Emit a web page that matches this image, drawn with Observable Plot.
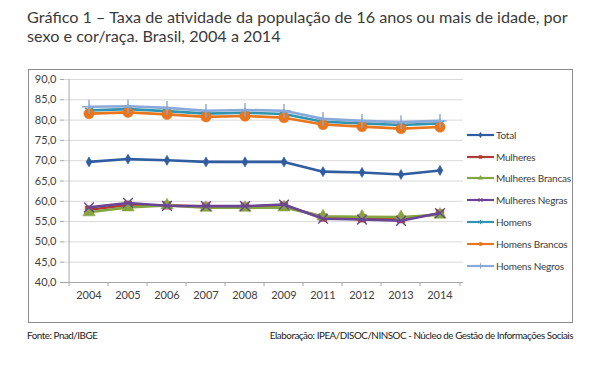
<!DOCTYPE html>
<html>
<head>
<meta charset="utf-8">
<script src="https://cdn.jsdelivr.net/npm/d3@7"></script>
<script src="https://cdn.jsdelivr.net/npm/@observablehq/plot@0.6"></script>
<style>
  body { margin: 0; background: #fff; }
  #root { position: relative; width: 600px; height: 371px; background: #fff; overflow: hidden; font-family: Lato, "Open Sans", sans-serif; }
  #title { position: absolute; left: 27px; top: 7px; font-size: 16.2px; line-height: 19px; color: #3a3a3a; }
  #box { position: absolute; left: 28px; top: 69px; width: 545px; height: 254px; box-sizing: border-box; border: 1.5px solid #8c8c8c; }
  #chart { position: absolute; left: 0; top: 62px; }
  #legend { position: absolute; left: 467px; top: 124px; font-size: 10px; letter-spacing: -0.2px; color: #404040; }
  #legend .item { height: 21.8px; display: flex; align-items: center; }
  #legend svg { margin-right: 2px; }
  .foot { position: absolute; top: 329px; font-size: 9.8px; color: #222; letter-spacing: -0.45px; font-family: "Liberation Sans Narrow", Lato, sans-serif; }
</style>
</head>
<body>
<div id="root">
  <div id="title">Gráfico 1 – Taxa de atividade da população de 16 anos ou mais de idade, por<br>sexo e cor/raça. Brasil, 2004 a 2014</div>
  <div id="box"></div>
  <div id="chart"></div>
  <div id="legend"></div>
  <div class="foot" style="left:27px">Fonte: Pnad/IBGE</div>
  <div class="foot" style="right:27px">Elaboração: IPEA/DISOC/NINSOC - Núcleo de Gestão de Informações Sociais</div>
</div>
<script>
const years = ["2004","2005","2006","2007","2008","2009","2011","2012","2013","2014"];
const yTicks = [40,45,50,55,60,65,70,75,80,85,90];

const total           = [69.7, 70.4, 70.1, 69.7, 69.7, 69.7, 67.3, 67.1, 66.6, 67.6];
const mulheres        = [57.9, 59.1, 59.0, 58.7, 58.7, 58.9, 56.0, 55.8, 55.6, 57.0];
const mulheresBrancas = [57.3, 58.5, 59.0, 58.4, 58.4, 58.5, 56.3, 56.2, 56.1, 56.7];
const mulheresNegras  = [58.5, 59.6, 58.9, 58.8, 58.8, 59.2, 55.7, 55.5, 55.2, 57.1];
const homens          = [82.4, 82.7, 82.2, 81.6, 81.8, 81.5, 79.6, 79.2, 78.8, 79.2];
const homensBrancos   = [81.6, 81.9, 81.4, 80.8, 81.0, 80.6, 78.9, 78.4, 77.9, 78.3];
const homensNegros    = [83.3, 83.4, 83.0, 82.3, 82.5, 82.3, 80.3, 79.8, 79.5, 79.8];

const seriesNames = ["Total","Mulheres","Mulheres Brancas","Mulheres Negras","Homens","Homens Brancos","Homens Negros"];
const seriesValues = [total, mulheres, mulheresBrancas, mulheresNegras, homens, homensBrancos, homensNegros];
const seriesColors = ["#2f5d9f","#b03a36","#85a53f","#6a4596","#2f95b0","#e8761e","#8aa8d8"];
const seriesSymbols = ["diamond","square","triangle","times","asterisk","circle","plus"];
const seriesR = [3.1, 4.3, 4.6, 4.5, 4.5, 5.2, 4.5];
const strokeSymbols = new Set(["times","asterisk","plus"]);

const W = 600, H = 266;
const mL = 64, mR = 137, mT = 17, mB = 46;
const bw = (W - mL - mR) / years.length;

const marks = [
  Plot.gridY(yTicks.filter(t => t > 40), {stroke: "#d9d9d9", strokeOpacity: 1, strokeWidth: 1}),
  Plot.axisY({ticks: yTicks, tickSize: 4, tickPadding: 4, tickFormat: d => d.toFixed(1).replace(".", ","), stroke: "#a6a6a6", fill: "#404040", fontSize: 11, label: null}),
  Plot.axisX({tickSize: 0, tickPadding: 9, fill: "#404040", fontSize: 11, label: null}),
  Plot.ruleY([40], {stroke: "#a6a6a6"}),
  Plot.ruleX([years[0]], {dx: -bw/2, y1: 40, y2: 90, stroke: "#a6a6a6"}),
  Plot.ruleX(years, {dx: -bw/2, y1: 40, y2: 39, stroke: "#a6a6a6"}),
  Plot.ruleX([years[years.length-1]], {dx: bw/2, y1: 40, y2: 39, stroke: "#a6a6a6"})
];

seriesNames.forEach((name, i) => {
  const data = years.map((y, j) => ({year: y, value: seriesValues[i][j]}));
  const c = seriesColors[i];
  marks.push(Plot.line(data, {x: "year", y: "value", stroke: c, strokeWidth: 2.6}));
  const isStroke = strokeSymbols.has(seriesSymbols[i]);
  marks.push(Plot.dot(data, {x: "year", y: "value", symbol: seriesSymbols[i], r: seriesR[i],
    fill: isStroke ? "none" : c, stroke: c, strokeWidth: isStroke ? 1.4 : 0.5}));
});

const chart = Plot.plot({
  width: W, height: H,
  marginLeft: mL, marginRight: mR, marginTop: mT, marginBottom: mB,
  style: {background: "transparent", fontFamily: "Lato, 'Open Sans', sans-serif"},
  x: {type: "band", domain: years, padding: 0, axis: null},
  y: {domain: [40, 90], axis: null},
  marks
});
document.getElementById("chart").appendChild(chart);

// legend
const legend = document.getElementById("legend");
seriesNames.forEach((name, i) => {
  const item = document.createElement("div");
  item.className = "item";
  const sym = d3.symbol().type({
    diamond: d3.symbolDiamond, square: d3.symbolSquare, triangle: d3.symbolTriangle,
    times: d3.symbolTimes, asterisk: d3.symbolAsterisk, circle: d3.symbolCircle, plus: d3.symbolPlus
  }[seriesSymbols[i]]).size(12)();
  const isStroke = strokeSymbols.has(seriesSymbols[i]);
  item.innerHTML = `<svg width="27" height="8"><line x1="0" x2="27" y1="4" y2="4" stroke="${seriesColors[i]}" stroke-width="2.2"/><path transform="translate(13.5,4)" d="${sym}" fill="${isStroke ? "none" : seriesColors[i]}" stroke="${seriesColors[i]}" stroke-width="${isStroke ? 1 : 0}"/></svg><span>${name}</span>`;
  legend.appendChild(item);
});
</script>
</body>
</html>
